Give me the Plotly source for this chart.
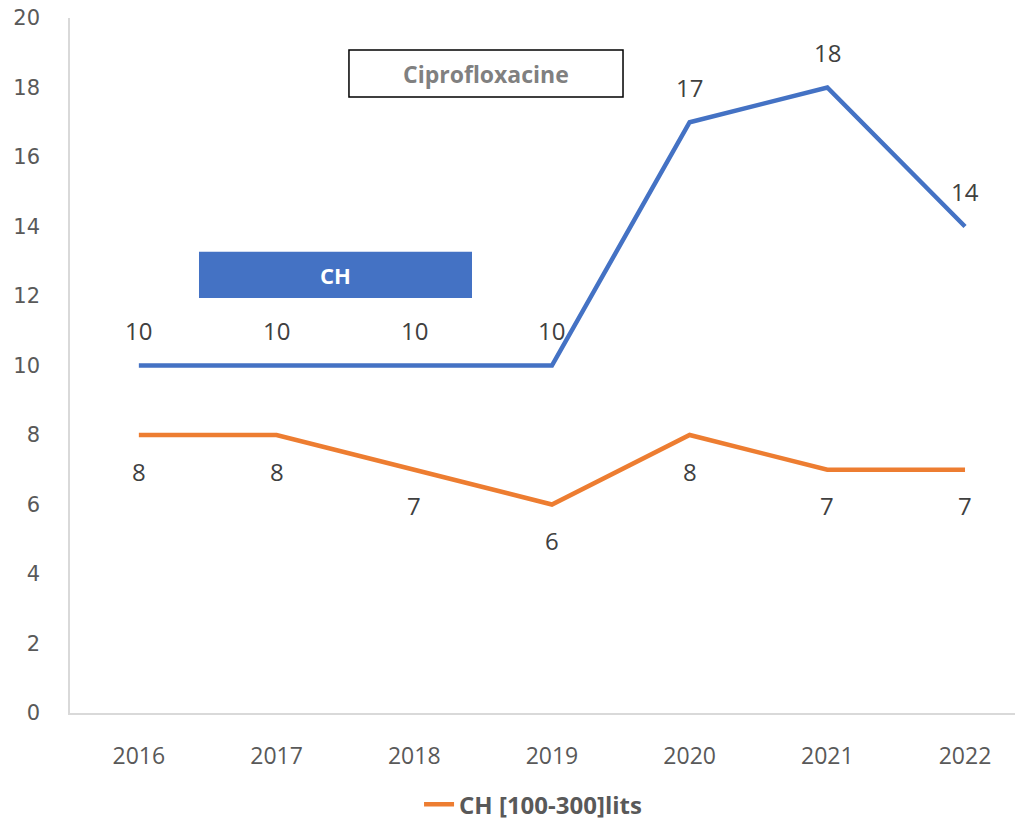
import plotly.graph_objects as go

years = ["2016", "2017", "2018", "2019", "2020", "2021", "2022"]
ch_blue = [10, 10, 10, 10, 17, 18, 14]
ch_orange = [8, 8, 7, 6, 8, 7, 7]
y_ticks = [0, 2, 4, 6, 8, 10, 12, 14, 16, 18, 20]

BLUE = "#4472C4"
ORANGE = "#ED7D31"
LABEL_FONT = dict(family="Open Sans, Liberation Sans, sans-serif", size=24, color="#404040")

fig = go.Figure()
fig.add_trace(go.Scatter(
    x=years, y=ch_blue, mode="lines", name="CH",
    line=dict(color=BLUE, width=4.5), showlegend=False,
))
fig.add_trace(go.Scatter(
    x=years, y=ch_orange, mode="lines", name="CH [100-300]lits",
    line=dict(color=ORANGE, width=4.5), showlegend=True,
))

# value labels: blue above the line, orange below (x given as category index)
annotations = []
for i, v in enumerate(ch_blue):
    annotations.append(dict(x=i, y=v, xref="x", yref="y", text=str(v),
                            showarrow=False, yshift=35, xanchor="center",
                            font=LABEL_FONT))
for i, v in enumerate(ch_orange):
    annotations.append(dict(x=i, y=v, xref="x", yref="y", text=str(v),
                            showarrow=False, yshift=-36, xanchor="center",
                            font=LABEL_FONT))

# boxed captions
annotations.append(dict(x=0.281, y=12.6, xref="paper", yref="y", text="<b>CH</b>",
                        showarrow=False, xanchor="center", yanchor="middle",
                        font=dict(family="Open Sans, sans-serif", size=22, color="white")))
annotations.append(dict(x=0.4402, y=18.4, xref="paper", yref="y", text="<b>Ciprofloxacine</b>",
                        showarrow=False, xanchor="center", yanchor="middle",
                        font=dict(family="Open Sans, sans-serif", size=23, color="#808080")))

shapes = [
    dict(type="rect", xref="paper", yref="y", x0=0.1365, x1=0.4254, y0=11.94, y1=13.27,
         fillcolor=BLUE, line=dict(width=0), layer="below"),
    dict(type="rect", xref="paper", yref="y", x0=0.2952, x1=0.5852, y0=17.73, y1=19.08,
         fillcolor="white", line=dict(color="black", width=1.5), layer="below"),
]

fig.update_layout(
    width=1015, height=822,
    margin=dict(l=70, r=0, t=18, b=109, autoexpand=False),
    paper_bgcolor="white", plot_bgcolor="white",
    xaxis=dict(
        type="category", range=[-0.5, 6.363],
        showgrid=False, zeroline=False,
        showline=True, linecolor="#D9D9D9", linewidth=1.5,
        ticks="", ticklabelstandoff=22,
        tickfont=dict(family="Liberation Sans Narrow, Open Sans, sans-serif", size=23, color="#595959"),
    ),
    yaxis=dict(
        range=[0, 20], tickvals=y_ticks,
        showgrid=False, zeroline=False,
        showline=True, linecolor="#D9D9D9", linewidth=1.5,
        ticks="", ticklabelstandoff=24,
        tickfont=dict(family="DejaVu Sans, sans-serif", size=21, color="#595959"),
    ),
    legend=dict(
        orientation="h", x=0.49, xanchor="center", y=-0.132, yanchor="middle",
        font=dict(family="Open Sans, sans-serif", size=24, color="#595959", weight="bold"),
        bgcolor="rgba(0,0,0,0)",
    ),
    annotations=annotations,
    shapes=shapes,
)

fig.write_html("out.html")
